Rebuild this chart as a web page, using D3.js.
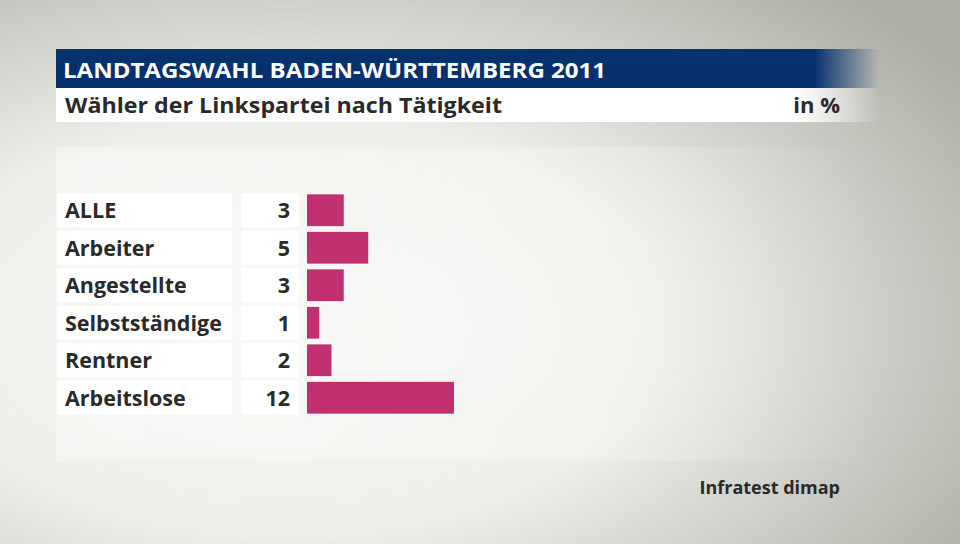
<!DOCTYPE html>
<html>
<head>
<meta charset="utf-8">
<script src="https://cdn.jsdelivr.net/npm/d3@7"></script>
<style>
  body { margin: 0; }
  svg text { font-family: "Open Sans", sans-serif; }
</style>
</head>
<body>
<div id="chart"></div>
<script>
var categories = ["ALLE", "Arbeiter", "Angestellte", "Selbstständige", "Rentner", "Arbeitslose"];
var values = [3, 5, 3, 1, 2, 12];
var title = "LANDTAGSWAHL BADEN-WÜRTTEMBERG 2011";
var subtitle = "Wähler der Linkspartei nach Tätigkeit";
var unit = "in %";
var source = "Infratest dimap";

var w = 960, h = 544;

var svg = d3.select("#chart").append("svg")
  .attr("width", w)
  .attr("height", h);

var defs = svg.append("defs");

// background
var bg = defs.append("radialGradient").attr("id", "bg")
  .attr("cx", "0.3").attr("cy", "0.6").attr("r", "0.85");
bg.append("stop").attr("offset", "0").attr("stop-color", "#f7f7f4");
bg.append("stop").attr("offset", "0.45").attr("stop-color", "#eeeeea");
bg.append("stop").attr("offset", "1").attr("stop-color", "#adada5");

var fadeBlue = defs.append("linearGradient").attr("id", "fadeBlue");
fadeBlue.append("stop").attr("offset", "0.92").attr("stop-color", "#06306e").attr("stop-opacity", 1);
fadeBlue.append("stop").attr("offset", "1").attr("stop-color", "#06306e").attr("stop-opacity", 0);

var fadeWhite = defs.append("linearGradient").attr("id", "fadeWhite");
fadeWhite.append("stop").attr("offset", "0.9").attr("stop-color", "#ffffff").attr("stop-opacity", 1);
fadeWhite.append("stop").attr("offset", "1").attr("stop-color", "#ffffff").attr("stop-opacity", 0);

var fadePanel = defs.append("linearGradient").attr("id", "fadePanel");
fadePanel.append("stop").attr("offset", "0").attr("stop-color", "#ffffff").attr("stop-opacity", 0.35);
fadePanel.append("stop").attr("offset", "0.7").attr("stop-color", "#ffffff").attr("stop-opacity", 0.2);
fadePanel.append("stop").attr("offset", "1").attr("stop-color", "#ffffff").attr("stop-opacity", 0);

svg.append("rect").attr("width", w).attr("height", h).attr("fill", "url(#bg)");

// header
svg.append("rect").attr("x", 56).attr("y", 49).attr("width", 824).attr("height", 39).attr("fill", "url(#fadeBlue)");
svg.append("rect").attr("x", 56).attr("y", 88).attr("width", 824).attr("height", 34).attr("fill", "url(#fadeWhite)");
svg.append("rect").attr("x", 56).attr("y", 147).attr("width", 820).attr("height", 314).attr("fill", "url(#fadePanel)");

svg.append("text").attr("x", 63).attr("y", 78)
  .attr("fill", "#fff").attr("font-size", 22).attr("font-weight", "bold")
  .attr("textLength", 543).attr("lengthAdjust", "spacingAndGlyphs")
  .text(title);

svg.append("text").attr("x", 65).attr("y", 113)
  .attr("fill", "#2a2a2a").attr("font-size", 22).attr("font-weight", "bold")
  .attr("textLength", 437).attr("lengthAdjust", "spacingAndGlyphs")
  .text(subtitle);

svg.append("text").attr("x", 840).attr("y", 113).attr("text-anchor", "end")
  .attr("fill", "#2a2a2a").attr("font-size", 22).attr("font-weight", "bold")
  .text(unit);

// rows
var y = d3.scaleBand().domain(categories).range([191.5, 416.5]).paddingInner(0.1).paddingOuter(0.05);
var x = d3.scaleLinear().domain([0, 12]).range([307, 454]);

var rows = svg.selectAll("g.row").data(categories).enter().append("g").attr("class", "row");

rows.append("rect").attr("x", 57).attr("y", function(d) { return y(d); })
  .attr("width", 175).attr("height", y.bandwidth()).attr("fill", "#fff");
rows.append("rect").attr("x", 241).attr("y", function(d) { return y(d); })
  .attr("width", 58).attr("height", y.bandwidth()).attr("fill", "#fff");

rows.append("text").attr("x", 65).attr("y", function(d) { return y(d) + y.bandwidth() / 2 + 8; })
  .attr("fill", "#2a2a2a").attr("font-size", 21.5).attr("font-weight", "bold")
  .text(function(d) { return d; });

rows.append("text").attr("x", 290).attr("y", function(d) { return y(d) + y.bandwidth() / 2 + 8; })
  .attr("text-anchor", "end")
  .attr("fill", "#2a2a2a").attr("font-size", 21.5).attr("font-weight", "bold")
  .text(function(d, i) { return values[i]; });

rows.append("rect").attr("x", x(0)).attr("y", function(d) { return y(d) + 1; })
  .attr("width", function(d, i) { return x(values[i]) - x(0); })
  .attr("height", y.bandwidth() - 2)
  .attr("fill", "#c03071");

svg.append("text").attr("x", 840).attr("y", 494).attr("text-anchor", "end")
  .attr("fill", "#2a2a2a").attr("font-size", 18).attr("font-weight", "bold")
  .text(source);
</script>
</body>
</html>
